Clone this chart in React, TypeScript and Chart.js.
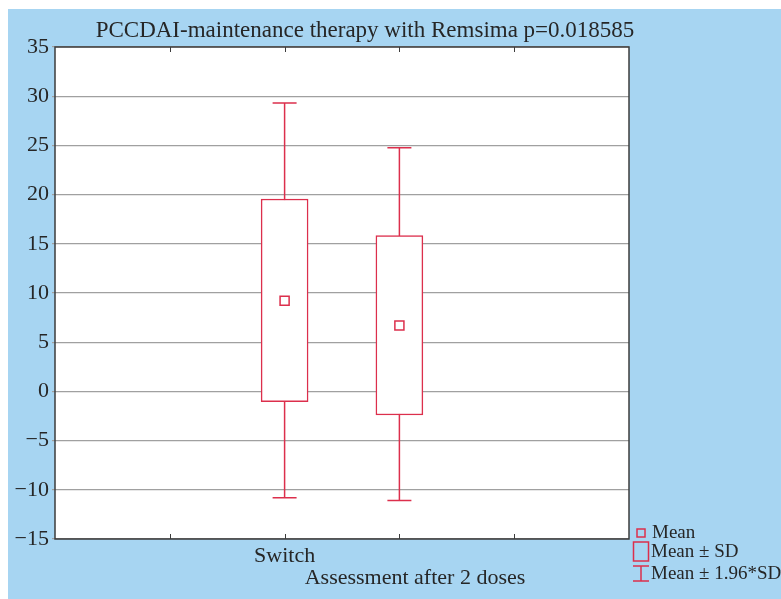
import React, { useEffect, useRef } from 'react';
import { Chart, registerables } from 'chart.js';

Chart.register(...registerables);

const title = 'PCCDAI-maintenance therapy with Remsima p=0.018585';
const xAxisTitle = 'Assessment after 2 doses';
const slots = ['', '', 'Switch', '', '', ''];
const means = [null, null, 9.22, 6.7, null, null];
const sdLow = [null, null, -1.05, -2.4, null, null];
const sdHigh = [null, null, 19.55, 15.83, null, null];
const ciLow = [null, null, -10.8, -11.1, null, null];
const ciHigh = [null, null, 29.3, 24.77, null, null];
const yMin = -15;
const yMax = 35;
const yStep = 5;
const legendLabels = ['Mean', 'Mean \u00b1 SD', 'Mean \u00b1 1.96*SD'];

const RED = '#dc2f4c';
const TEXT = '#262626';
const FONT = '"Liberation Serif", "Times New Roman", serif';

const whiskerPlugin = {
  id: 'whiskers',
  beforeDraw(chart: any) {
    const { ctx, chartArea } = chart;
    ctx.save();
    ctx.fillStyle = '#ffffff';
    ctx.fillRect(chartArea.left, chartArea.top, chartArea.right - chartArea.left, chartArea.bottom - chartArea.top);
    ctx.restore();
  },
  beforeDatasetsDraw(chart: any) {
    const { ctx, scales } = chart;
    const x = scales.x;
    const y = scales.y;
    ctx.save();
    ctx.strokeStyle = RED;
    ctx.lineWidth = 1.5;
    ciLow.forEach((lo, i) => {
      const hi = ciHigh[i];
      if (lo == null || hi == null) return;
      const px = x.getPixelForValue(i);
      const pl = y.getPixelForValue(lo);
      const ph = y.getPixelForValue(hi);
      ctx.beginPath();
      ctx.moveTo(px, pl);
      ctx.lineTo(px, ph);
      ctx.moveTo(px - 12, pl);
      ctx.lineTo(px + 12, pl);
      ctx.moveTo(px - 12, ph);
      ctx.lineTo(px + 12, ph);
      ctx.stroke();
    });
    ctx.restore();
  },
};

const decorPlugin = {
  id: 'decor',
  afterDraw(chart: any) {
    const { ctx, chartArea, scales } = chart;
    const x = scales.x;
    ctx.save();
    // frame
    ctx.strokeStyle = '#3c3c3c';
    ctx.lineWidth = 1.5;
    ctx.strokeRect(chartArea.left, chartArea.top, chartArea.right - chartArea.left, chartArea.bottom - chartArea.top);
    // inward x ticks
    ctx.lineWidth = 1;
    ctx.beginPath();
    for (let i = 1; i < slots.length - 1; i++) {
      const px = Math.round(x.getPixelForValue(i)) + 0.5;
      ctx.moveTo(px, chartArea.bottom);
      ctx.lineTo(px, chartArea.bottom - 5);
      ctx.moveTo(px, chartArea.top);
      ctx.lineTo(px, chartArea.top + 5);
    }
    ctx.stroke();
    // title
    ctx.fillStyle = TEXT;
    ctx.font = `23px ${FONT}`;
    ctx.textAlign = 'center';
    ctx.textBaseline = 'alphabetic';
    ctx.fillText(title, 365, 37);
    // x axis title
    ctx.font = `22px ${FONT}`;
    ctx.fillText(xAxisTitle, 415, 584);
    // legend
    ctx.font = `19px ${FONT}`;
    ctx.textAlign = 'left';
    ctx.strokeStyle = RED;
    ctx.lineWidth = 1.5;
    ctx.strokeRect(637, 529, 8, 8);
    ctx.strokeRect(633.5, 542, 15, 19);
    ctx.beginPath();
    ctx.moveTo(641, 566);
    ctx.lineTo(641, 581);
    ctx.moveTo(633, 566);
    ctx.lineTo(649, 566);
    ctx.moveTo(633, 581);
    ctx.lineTo(649, 581);
    ctx.stroke();
    ctx.fillText(legendLabels[0], 652, 538);
    ctx.fillText(legendLabels[1], 651, 557);
    ctx.fillText(legendLabels[2], 651, 579);
    ctx.restore();
  },
};

export default function App() {
  const ref = useRef<HTMLCanvasElement | null>(null);
  useEffect(() => {
    if (!ref.current) return;
    const chart = new Chart(ref.current, {
      type: 'bar',
      data: {
        labels: slots,
        datasets: [
          {
            type: 'bar',
            order: 1,
            data: sdLow.map((lo, i) => (lo == null ? null : [lo, sdHigh[i] as number])) as any,
            backgroundColor: '#ffffff',
            borderColor: RED,
            borderWidth: 1.5,
            borderSkipped: false,
            barThickness: 47,
          } as any,
          {
            type: 'line',
            order: 0,
            data: means as any,
            showLine: false,
            pointStyle: 'rect',
            pointRadius: 6.4,
            pointHoverRadius: 6.4,
            pointBorderColor: RED,
            pointBackgroundColor: '#ffffff',
            pointBorderWidth: 1.5,
          } as any,
        ],
      },
      options: {
        animation: false,
        responsive: false,
        layout: { padding: { left: 0, right: 152, top: 47, bottom: 0 } },
        plugins: {
          legend: { display: false },
          title: { display: false },
          tooltip: { enabled: false },
        },
        scales: {
          x: {
            type: 'category',
            offset: false,
            grid: { display: false },
            border: { display: false },
            afterFit: (s: any) => {
              s.height = 60;
            },
            ticks: {
              autoSkip: false,
              maxRotation: 0,
              padding: -4,
              color: TEXT,
              font: { family: FONT, size: 22 },
            },
          },
          y: {
            type: 'linear',
            min: yMin,
            max: yMax,
            afterFit: (s: any) => {
              s.width = 55;
            },
            grid: { color: '#a0a0a0', lineWidth: 1.2, tickLength: 3, drawTicks: true },
            border: { display: false },
            ticks: {
              stepSize: yStep,
              padding: 3,
              color: TEXT,
              font: { family: FONT, size: 22 },
              callback: (v: any) => String(v).replace('-', '\u2212'),
            },
          },
        },
      },
      plugins: [whiskerPlugin, decorPlugin],
    });
    return () => chart.destroy();
  }, []);

  return (
    <div style={{ position: 'fixed', left: 0, top: 0, width: 781, height: 599, background: '#ffffff' }}>
      <div style={{ position: 'absolute', left: 8, top: 9, right: 0, bottom: 0, background: '#a7d5f2' }} />
      <canvas ref={ref} width={781} height={599} style={{ position: 'absolute', left: 0, top: 0, width: 781, height: 599 }} />
    </div>
  );
}
